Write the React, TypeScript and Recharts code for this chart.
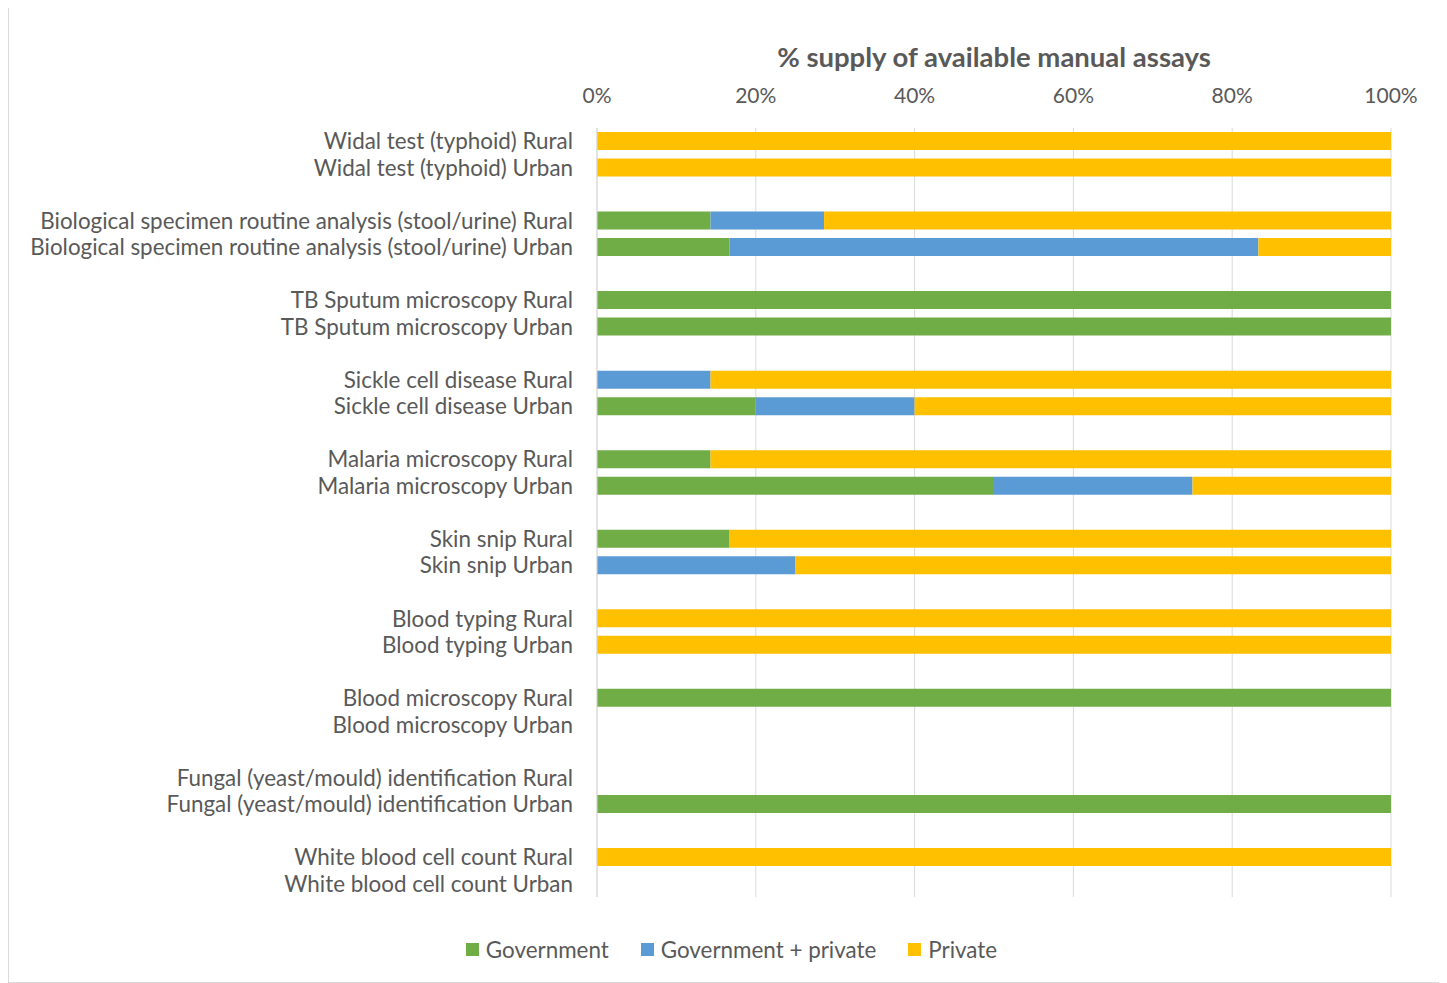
import React from 'react';
import { BarChart, Bar, XAxis, YAxis, CartesianGrid } from 'recharts';

// rows top to bottom, blank strings are the spacer rows between assays
const categories = [
  'Widal test (typhoid) Rural',
  'Widal test (typhoid) Urban',
  '',
  'Biological specimen routine analysis (stool/urine) Rural',
  'Biological specimen routine analysis (stool/urine) Urban',
  '',
  'TB Sputum microscopy Rural',
  'TB Sputum microscopy Urban',
  '',
  'Sickle cell disease Rural',
  'Sickle cell disease Urban',
  '',
  'Malaria microscopy Rural',
  'Malaria microscopy Urban',
  '',
  'Skin snip Rural',
  'Skin snip Urban',
  '',
  'Blood typing Rural',
  'Blood typing Urban',
  '',
  'Blood microscopy Rural',
  'Blood microscopy Urban',
  '',
  'Fungal (yeast/mould) identification Rural',
  'Fungal (yeast/mould) identification Urban',
  '',
  'White blood cell count Rural',
  'White blood cell count Urban',
];

const government = [
  0, 0, 0,
  14.3, 16.7, 0,
  100, 100, 0,
  0, 20, 0,
  14.3, 50, 0,
  16.7, 0, 0,
  0, 0, 0,
  100, 0, 0,
  0, 100, 0,
  0, 0,
];

const govPrivate = [
  0, 0, 0,
  14.3, 66.6, 0,
  0, 0, 0,
  14.3, 20, 0,
  0, 25, 0,
  0, 25, 0,
  0, 0, 0,
  0, 0, 0,
  0, 0, 0,
  0, 0,
];

const privateOnly = [
  100, 100, 0,
  71.4, 16.7, 0,
  0, 0, 0,
  85.7, 60, 0,
  85.7, 25, 0,
  83.3, 75, 0,
  100, 100, 0,
  0, 0, 0,
  0, 0, 0,
  100, 0,
];

const xTicks = [0, 20, 40, 60, 80, 100];

const seriesNames = ['Government', 'Government + private', 'Private'];
const seriesColors = ['#70AD47', '#5B9BD5', '#FFC000'];

const data = categories.map((name, i) => ({
  id: i,
  name,
  government: government[i],
  govPrivate: govPrivate[i],
  privateOnly: privateOnly[i],
}));

const FONT = 'Lato, "Open Sans", sans-serif';
const TEXT = '#595959';

const App: React.FC = () => {
  return (
    <div
      style={{
        position: 'relative',
        width: 1435,
        height: 976,
        marginTop: -1,
        border: '1px solid #D9D9D9',
        boxSizing: 'border-box',
        fontFamily: FONT,
        background: '#fff',
      }}
    >
      <div
        style={{
          position: 'absolute',
          left: 588,
          width: 794,
          top: 32,
          textAlign: 'center',
          fontSize: 27.5,
          fontWeight: 700,
          color: TEXT,
        }}
      >
        % supply of available manual assays
      </div>
      <BarChart
        width={1433}
        height={974}
        data={data}
        layout="vertical"
        barSize={18}
        margin={{ top: 80, right: 51, bottom: 85, left: 0 }}
      >
        <CartesianGrid horizontal={false} stroke="#D9D9D9" />
        <XAxis
          type="number"
          orientation="top"
          domain={[0, 100]}
          ticks={xTicks}
          tickFormatter={(v: number) => `${v}%`}
          height={40}
          axisLine={false}
          tickLine={false}
          tickMargin={19}
          tick={{ fill: TEXT, fontSize: 21, fontFamily: FONT }}
        />
        <YAxis
          type="category"
          dataKey="id"
          width={588}
          interval={0}
          tickFormatter={(v: number) => categories[v]}
          axisLine={{ stroke: '#D9D9D9' }}
          tickLine={false}
          tickMargin={18}
          tick={{ fill: TEXT, fontSize: 22.4, fontFamily: FONT }}
        />
        <Bar dataKey="government" stackId="a" fill={seriesColors[0]} isAnimationActive={false} />
        <Bar dataKey="govPrivate" stackId="a" fill={seriesColors[1]} isAnimationActive={false} />
        <Bar dataKey="privateOnly" stackId="a" fill={seriesColors[2]} isAnimationActive={false} />
      </BarChart>
      <div
        style={{
          position: 'absolute',
          left: 6,
          width: 1433,
          top: 928,
          display: 'flex',
          justifyContent: 'center',
          gap: 32,
          fontSize: 22.4,
          color: TEXT,
        }}
      >
        {seriesNames.map((n, i) => (
          <div key={n} style={{ display: 'flex', alignItems: 'center', gap: 7 }}>
            <span style={{ width: 13, height: 13, background: seriesColors[i], display: 'inline-block' }} />
            <span>{n}</span>
          </div>
        ))}
      </div>
    </div>
  );
};

export default App;
